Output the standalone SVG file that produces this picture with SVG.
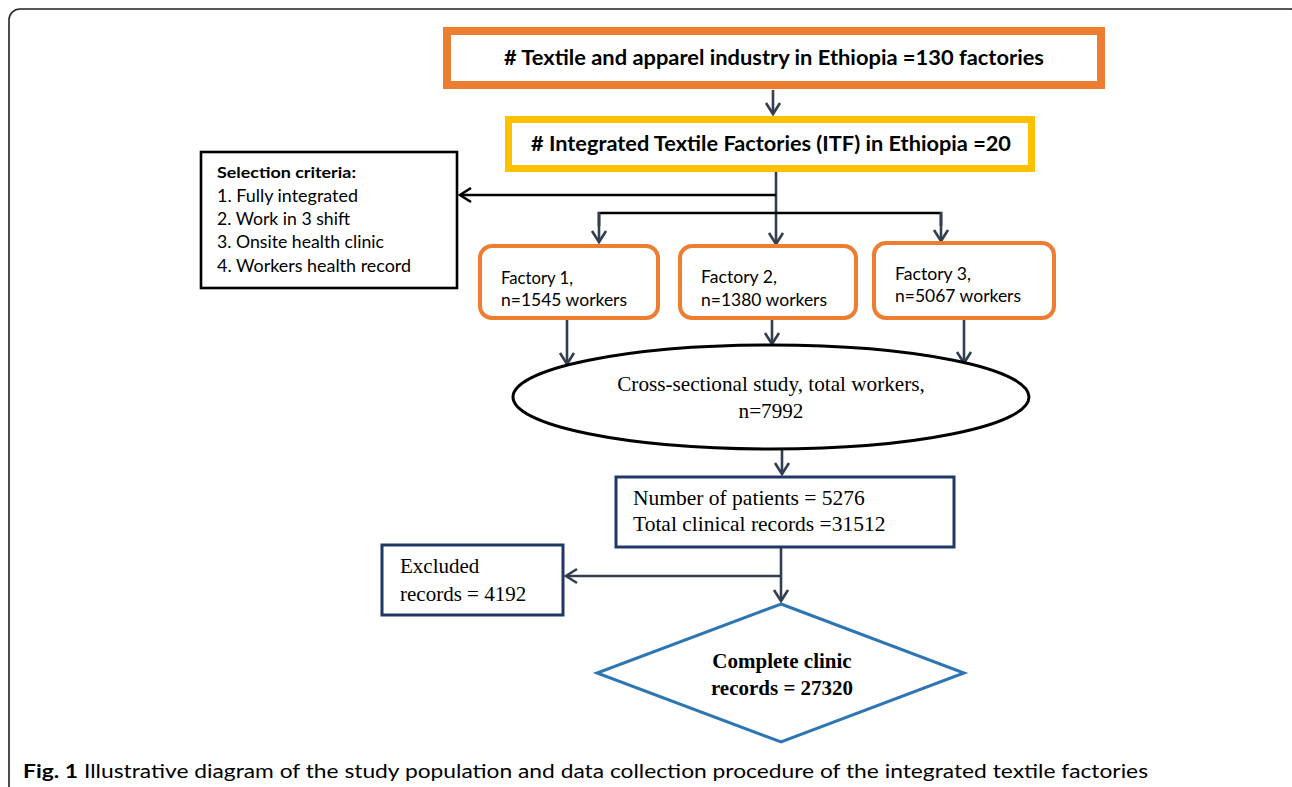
<svg xmlns="http://www.w3.org/2000/svg" width="1292" height="787" viewBox="0 0 1292 787">
<defs>
<style>
.frame{fill:#fff;stroke:#222;stroke-width:1.6}
.cal{font-family:Lato,"Open Sans","Liberation Sans",sans-serif;fill:#000}
.tms{font-family:"Liberation Serif","Times New Roman",serif;fill:#000}
.b{font-weight:bold}
.conn{fill:none;stroke:#333F50;stroke-width:2.6}
.blk{fill:none;stroke:#000;stroke-width:2.6}
.fact{fill:#fff;stroke:#ED7D31;stroke-width:4}
.navy{fill:#fff;stroke:#1F3864;stroke-width:3}
</style>
<marker id="arr" markerUnits="userSpaceOnUse" markerWidth="20" markerHeight="20" viewBox="-12 -10 14 20" refX="0" refY="0" orient="auto">
<path d="M-11,-7 L0,0 L-11,7" fill="none" stroke="#333F50" stroke-width="2.6"/>
</marker>
<marker id="arrk" markerUnits="userSpaceOnUse" markerWidth="20" markerHeight="20" viewBox="-12 -10 14 20" refX="0" refY="0" orient="auto">
<path d="M-11,-7 L0,0 L-11,7" fill="none" stroke="#000" stroke-width="2.6"/>
</marker>
</defs>
<rect x="0" y="0" width="1292" height="787" fill="#fff"/>
<rect class="frame" x="9" y="9" width="1292" height="800" rx="11"/>

<g id="connectors">
<line class="conn" x1="773" y1="90" x2="773" y2="114" marker-end="url(#arr)"/>
<line class="conn" x1="776" y1="172" x2="776" y2="244" marker-end="url(#arr)"/>
<line class="blk" x1="776" y1="195" x2="460" y2="195" marker-end="url(#arrk)"/>
<polyline class="blk" points="599,226 599,213 941,213 941,226"/>
<line class="conn" x1="599" y1="212" x2="599" y2="242" marker-end="url(#arr)"/>
<line class="conn" x1="941" y1="212" x2="941" y2="241" marker-end="url(#arr)"/>
<line class="conn" x1="567" y1="318" x2="567" y2="364" marker-end="url(#arr)"/>
<line class="conn" x1="772" y1="318" x2="772" y2="344" marker-end="url(#arr)"/>
<line class="conn" x1="964" y1="318" x2="964" y2="363" marker-end="url(#arr)"/>
<line class="conn" x1="782" y1="449" x2="782" y2="474" marker-end="url(#arr)"/>
<line class="conn" x1="781" y1="548" x2="781" y2="601" marker-end="url(#arr)"/>
<line class="conn" x1="781" y1="576" x2="566" y2="576" marker-end="url(#arr)"/>
</g>

<g id="industry">
<rect x="447" y="31" width="654" height="54" fill="#fff" stroke="#ED7D31" stroke-width="8"/>
<text class="cal b" x="774" y="65" font-size="20" text-anchor="middle" textLength="540" lengthAdjust="spacingAndGlyphs"># Textile and apparel industry in Ethiopia =130 factories</text>
</g>

<g id="itf">
<rect x="508.5" y="119.5" width="523" height="49" fill="#fff" stroke="#FFC000" stroke-width="7"/>
<text class="cal b" x="771" y="151" font-size="20" text-anchor="middle" textLength="480" lengthAdjust="spacingAndGlyphs"># Integrated Textile Factories (ITF) in Ethiopia =20</text>
</g>

<g id="criteria">
<rect x="201" y="152" width="256" height="136" fill="#fff" stroke="#000" stroke-width="2.6"/>
<text class="cal b" x="217" y="178" font-size="16" textLength="139" lengthAdjust="spacingAndGlyphs">Selection criteria:</text>
<text class="cal" x="217" y="202" font-size="16.5" textLength="141" lengthAdjust="spacingAndGlyphs">1. Fully integrated</text>
<text class="cal" x="217" y="225" font-size="16.5" textLength="133" lengthAdjust="spacingAndGlyphs">2. Work in 3 shift</text>
<text class="cal" x="217" y="248" font-size="16.5" textLength="167" lengthAdjust="spacingAndGlyphs">3. Onsite health clinic</text>
<text class="cal" x="217" y="272" font-size="16.5" textLength="194" lengthAdjust="spacingAndGlyphs">4. Workers health record</text>
</g>

<g id="factory1">
<rect class="fact" x="480" y="246" width="178" height="72" rx="12"/>
<text class="cal" x="501" y="284" font-size="16.5" textLength="72" lengthAdjust="spacingAndGlyphs">Factory 1,</text>
<text class="cal" x="501" y="306" font-size="16.5" textLength="126" lengthAdjust="spacingAndGlyphs">n=1545 workers</text>
</g>

<g id="factory2">
<rect class="fact" x="680" y="246" width="176" height="72" rx="12"/>
<text class="cal" x="701" y="283" font-size="16.5" textLength="76" lengthAdjust="spacingAndGlyphs">Factory 2,</text>
<text class="cal" x="701" y="306" font-size="16.5" textLength="126" lengthAdjust="spacingAndGlyphs">n=1380 workers</text>
</g>

<g id="factory3">
<rect class="fact" x="874" y="243" width="180" height="75" rx="12"/>
<text class="cal" x="895" y="280" font-size="16.5" textLength="76" lengthAdjust="spacingAndGlyphs">Factory 3,</text>
<text class="cal" x="895" y="302" font-size="16.5" textLength="126" lengthAdjust="spacingAndGlyphs">n=5067 workers</text>
</g>

<g id="study">
<ellipse cx="771" cy="397" rx="258" ry="52" fill="#fff" stroke="#000" stroke-width="3"/>
<text class="tms" x="771" y="391" font-size="21.2" text-anchor="middle">Cross-sectional study, total workers,</text>
<text class="tms" x="771" y="418" font-size="21.2" text-anchor="middle">n=7992</text>
</g>

<g id="patients">
<rect class="navy" x="616" y="477" width="338" height="70"/>
<text class="tms" x="633" y="505" font-size="21.5">Number of patients = 5276</text>
<text class="tms" x="633" y="531" font-size="21.5">Total clinical records =31512</text>
</g>

<g id="excluded">
<rect class="navy" x="382" y="545" width="181" height="70"/>
<text class="tms" x="400" y="573" font-size="21">Excluded</text>
<text class="tms" x="400" y="601" font-size="21">records = 4192</text>
</g>

<g id="complete">
<polygon points="781,604 964,673 781,742 597,673" fill="#fff" stroke="#2E75B6" stroke-width="3"/>
<text class="tms b" x="782" y="668" font-size="21" text-anchor="middle">Complete clinic</text>
<text class="tms b" x="782" y="695" font-size="21" text-anchor="middle">records = 27320</text>
</g>

<g id="caption">
<text class="cal b" x="23" y="778" font-size="19.5" textLength="55" lengthAdjust="spacingAndGlyphs">Fig. 1</text>
<text class="cal" x="84" y="778" font-size="19.5" textLength="1064" lengthAdjust="spacingAndGlyphs">Illustrative diagram of the study population and data collection procedure of the integrated textile factories</text>
</g>
</svg>
